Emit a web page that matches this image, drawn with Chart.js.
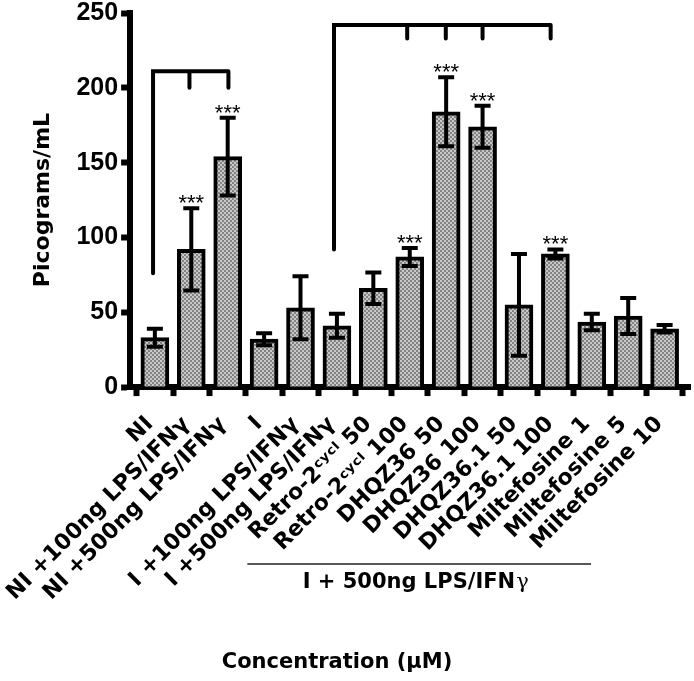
<!DOCTYPE html>
<html>
<head>
<meta charset="utf-8">
<script src="https://cdn.jsdelivr.net/npm/chart.js@4.4.1/dist/chart.umd.min.js"></script>
<style>
html,body{margin:0;padding:0;background:#ffffff;}
#wrap{width:694px;height:681px;}
</style>
</head>
<body>
<div id="wrap"><canvas id="c" width="694" height="681"></canvas></div>
<script>
// ---- data ----
const categories = [
  "NI", "NI +100ng LPS/IFNγ", "NI +500ng LPS/IFNγ",
  "I", "I +100ng LPS/IFNγ", "I +500ng LPS/IFNγ",
  "Retro-2ᶜʸᶜˡ 50", "Retro-2ᶜʸᶜˡ 100",
  "DHQZ36 50", "DHQZ36 100", "DHQZ36.1 50", "DHQZ36.1 100",
  "Miltefosine 1", "Miltefosine 5", "Miltefosine 10"
];
const means = [33, 92, 154, 32, 53, 41, 66, 87, 184, 174, 55, 89, 43.5, 47.5, 39];
const errors = [6, 27.5, 26, 4, 21, 8, 10.5, 6, 23, 14, 34, 3, 5.5, 12, 2.5];
const significance = ["", "***", "***", "", "", "", "", "***", "***", "***", "", "***", "", "", ""];
const yTickValues = [0, 50, 100, 150, 200, 250];
const yTitle = "Picograms/mL";
const xTitle = "Concentration (μM)";
const groupText = "I + 500ng LPS/IFN";
const groupGreek = "γ";
const groupSpan = [2.54, 11.98];
// comparison brackets (category index units / value units)
const bracketLeft = {level: 211, legEnd: 76, start: -0.05, end: 2.02, drops: [0.95, 2.02], dropEnd: 200};
const bracketRight = {level: 242, legEnd: 92, start: 4.92, end: 10.87, drops: [6.93, 7.99, 9.0, 10.87], dropEnd: 233};

// ---- fill pattern ----
function makePattern() {
  const c = document.createElement('canvas');
  c.width = 4; c.height = 4;
  const g = c.getContext('2d');
  g.fillStyle = '#838383'; g.fillRect(0, 0, 4, 4);
  g.fillStyle = '#c8c8c8'; g.fillRect(0, 0, 2, 2); g.fillRect(2, 2, 2, 2);
  return g.createPattern(c, 'repeat');
}

const annotate = {
  id: 'annotate',
  afterDatasetsDraw(chart) {
    const ctx = chart.ctx, xs = chart.scales.x, ys = chart.scales.y;
    ctx.save();
    ctx.strokeStyle = '#000'; ctx.fillStyle = '#000';
    // error bars
    ctx.lineWidth = 4; ctx.lineCap = 'butt';
    means.forEach((m, i) => {
      const x = xs.getPixelForValue(i);
      const yt = ys.getPixelForValue(m + errors[i]);
      const yb = ys.getPixelForValue(m - errors[i]);
      ctx.beginPath();
      ctx.moveTo(x, yt); ctx.lineTo(x, yb);
      ctx.moveTo(x - 8, yt); ctx.lineTo(x + 8, yt);
      ctx.moveTo(x - 8, yb); ctx.lineTo(x + 8, yb);
      ctx.stroke();
      if (significance[i]) {
        ctx.font = '22px "Liberation Sans", Arial, sans-serif';
        ctx.textAlign = 'center'; ctx.textBaseline = 'alphabetic';
        ctx.fillText(significance[i], x, yt + 2);
      }
    });
    // brackets
    ctx.lineWidth = 4; ctx.lineCap = 'round'; ctx.lineJoin = 'miter';
    [bracketLeft, bracketRight].forEach(b => {
      const yl = ys.getPixelForValue(b.level);
      ctx.beginPath();
      ctx.moveTo(xs.getPixelForValue(b.start), ys.getPixelForValue(b.legEnd));
      ctx.lineTo(xs.getPixelForValue(b.start), yl);
      ctx.lineTo(xs.getPixelForValue(b.end), yl);
      b.drops.forEach(d => {
        ctx.moveTo(xs.getPixelForValue(d), yl);
        ctx.lineTo(xs.getPixelForValue(d), ys.getPixelForValue(b.dropEnd));
      });
      ctx.stroke();
    });
    // group line + label
    const gx0 = xs.getPixelForValue(groupSpan[0]);
    const gx1 = xs.getPixelForValue(groupSpan[1]);
    const gy = chart.chartArea.bottom + 177;
    ctx.lineWidth = 1.5; ctx.lineCap = 'butt'; ctx.strokeStyle = '#222';
    ctx.beginPath(); ctx.moveTo(gx0, gy); ctx.lineTo(gx1, gy); ctx.stroke();
    ctx.font = 'bold 21px "DejaVu Sans", sans-serif';
    const w1 = ctx.measureText(groupText).width;
    ctx.font = '21px "DejaVu Serif", serif';
    const w2 = ctx.measureText(groupGreek).width;
    const cx = (gx0 + gx1) / 2 - 4;
    const left = cx - (w1 + w2) / 2;
    const ty = gy + 24;
    ctx.textAlign = 'left'; ctx.textBaseline = 'alphabetic'; ctx.fillStyle = '#000';
    ctx.font = 'bold 21px "DejaVu Sans", sans-serif';
    ctx.fillText(groupText, left, ty);
    ctx.font = '21px "DejaVu Serif", serif';
    ctx.fillText(groupGreek, left + w1 + 1, ty);
    // x axis title, centred under the figure body
    ctx.font = 'bold 21px "DejaVu Sans", sans-serif';
    ctx.textAlign = 'center'; ctx.textBaseline = 'middle';
    ctx.fillText(xTitle, 337, chart.chartArea.bottom + 275);
    ctx.restore();
  }
};

const ctx = document.getElementById('c').getContext('2d');
new Chart(ctx, {
  type: 'bar',
  data: {
    datasets: [{
      data: means.map((v, i) => ({x: i, y: v})),
      backgroundColor: makePattern(),
      borderColor: '#000',
      borderWidth: 4,
      borderSkipped: 'start',
      barThickness: 28
    }]
  },
  options: {
    responsive: false,
    animation: false,
    devicePixelRatio: 1,
    layout: {padding: {left: 30, right: 1, top: 0, bottom: 60}},
    plugins: {
      legend: {display: false},
      tooltip: {enabled: false},
      title: {display: false}
    },
    scales: {
      x: {
        type: 'linear', min: -0.68, max: 14.71, offset: false,
        afterBuildTicks: s => { s.ticks = categories.map((_, i) => ({value: i})); },
        ticks: {
          autoSkip: false, minRotation: 45, maxRotation: 45, padding: 20, labelOffset: -5, color: '#000',
          font: {family: 'DejaVu Sans', weight: 'bold', size: 22, lineHeight: 0.6},
          callback: v => categories[v]
        },
        grid: {drawOnChartArea: false, drawTicks: true, tickLength: 9, tickWidth: 6, tickColor: '#000'},
        border: {color: '#000', width: 6}
      },
      y: {
        min: 0, max: 250,
        afterBuildTicks: s => { s.ticks = yTickValues.map(v => ({value: v})); },
        ticks: {color: '#000', font: {family: 'Liberation Sans', weight: 'bold', size: 25, lineHeight: 0.8}, padding: 3},
        grid: {drawOnChartArea: false, drawTicks: true, tickLength: 9, tickWidth: 6, tickColor: '#000'},
        border: {color: '#000', width: 6},
        title: {
          display: true, text: yTitle, color: '#000',
          font: {family: 'DejaVu Sans', weight: 'bold', size: 22},
          padding: {top: 0, bottom: 17}
        }
      }
    }
  },
  plugins: [annotate]
});
</script>
</body>
</html>
